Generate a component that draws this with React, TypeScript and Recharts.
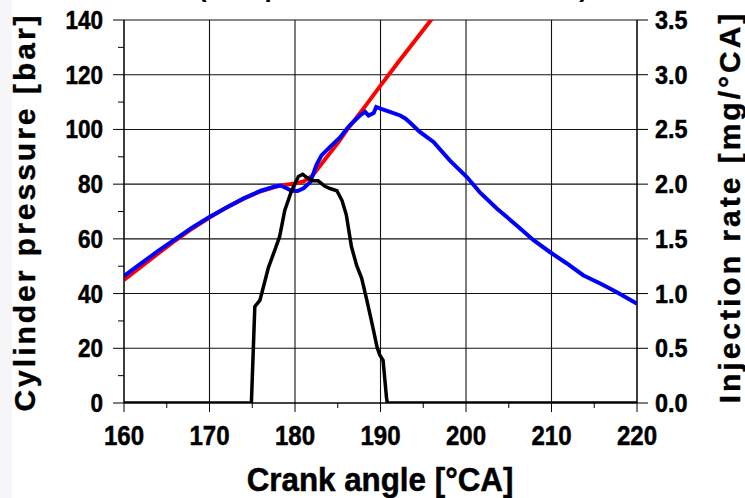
import React from 'react';
import { ComposedChart, Line, XAxis, YAxis, CartesianGrid } from 'recharts';

// Measured cylinder pressure [bar] vs crank angle [°CA]
const measuredAngle = [
  160, 162, 164, 166, 168, 170, 172, 174, 176, 177.5, 178.3, 179, 179.6, 180.3, 181,
  181.8, 182.5, 183.1, 184.1, 185.3, 186.4, 187.6, 188.2, 188.6, 189.2, 189.5, 190,
  191.1, 192.3, 192.9, 193.6, 194.6, 196.2, 198.1, 200.1, 201.6, 203.6, 205.9, 207.9,
  209.8, 211.8, 213.7, 215.7, 217.6, 219.6, 220,
];
const measuredPressure = [
  46.4, 51, 55.6, 59.9, 64.2, 68, 71.5, 74.8, 77.6, 79, 79.5, 78.5, 77.6, 77.5, 78.5,
  80.8, 87, 90.5, 93.6, 97.2, 101.5, 105.1, 106.4, 105.1, 106, 108.2, 107.6,
  106.4, 105.1, 104, 102.1, 99.1, 95.4, 88.7, 82.6, 77.1, 71.1, 65, 59.5,
  55.2, 51, 46.7, 43.7, 40.6, 37, 36.3,
];

// Simulated cylinder pressure [bar]
const simAngle = [
  160, 162, 164, 166, 168, 170, 172, 174, 176, 178, 179, 180, 181, 182, 183, 184, 185,
  186, 187, 188, 190, 192, 194, 196, 197,
];
const simPressure = [
  45, 49.8, 54.7, 59.4, 63.8, 67.8, 71.5, 74.7, 77.4, 79.3, 79.8, 80.2, 81, 83, 87, 91, 95,
  99.5, 103.5, 107.6, 116, 124.3, 132.3, 140.4, 144.5,
];

// Injection rate [mg/°CA]
const injAngle = [
  160, 174.9, 175.3, 175.9, 176.9, 177.7, 178.2, 178.8, 179.6, 180.4, 180.9, 181.4, 182,
  182.7, 183.5, 184.1, 184.9, 185.5, 186, 186.6, 187.2, 187.8, 188.4, 189, 189.6, 189.9,
  190.3, 190.7, 190.8, 220,
];
const injRate = [
  0, 0, 0.88, 0.94, 1.24, 1.41, 1.52, 1.76, 1.94, 2.07, 2.09, 2.06, 2.03,
  2.03, 1.98, 1.96, 1.94, 1.85, 1.72, 1.43, 1.26, 1.14, 0.94, 0.73, 0.51, 0.44,
  0.39, 0.05, 0, 0,
];

const angleTicks = [160, 165, 170, 175, 180, 185, 190, 195, 200, 205, 210, 215, 220];
const angleGrid = [160, 170, 180, 190, 200, 210, 220];
const pressureTicks = [0, 10, 20, 30, 40, 50, 60, 70, 80, 90, 100, 110, 120, 130, 140];
const pressureGrid = [0, 20, 40, 60, 80, 100, 120, 140];
const rateTicks = [0, 0.5, 1, 1.5, 2, 2.5, 3, 3.5];

const measured = measuredAngle.map((a, i) => ({ angle: a, p: measuredPressure[i] }));
const simulated = simAngle.map((a, i) => ({ angle: a, p: simPressure[i] }));
const injection = injAngle.map((a, i) => ({ angle: a, r: injRate[i] }));

const W = 745;
const H = 498;
const font = "'Liberation Sans', Arial, Helvetica, sans-serif";

// heavy bold text squeezed horizontally, like a narrow face
const Narrow = ({ x, y, anchor, size, sx, children }: any) => (
  <text
    transform={`translate(${x} ${y}) scale(${sx} 1)`}
    textAnchor={anchor}
    fontFamily={font}
    fontWeight="bold"
    fontSize={size}
    fill="#000"
    stroke="#000"
    strokeWidth={0.5}
  >
    {children}
  </text>
);

const AngleTick = ({ x, y, payload }: any) => {
  const major = payload.value % 10 === 0;
  return (
    <g>
      <line x1={x} x2={x} y1={y} y2={y + (major ? 9 : 5)} stroke="#000" />
      {major && (
        <Narrow x={x} y={y + 42} anchor="middle" size={28} sx={0.86}>
          {payload.value}
        </Narrow>
      )}
    </g>
  );
};

const PressureTick = ({ x, y, payload }: any) => {
  const major = payload.value % 20 === 0;
  return (
    <g>
      <line x1={x} x2={x - (major ? 11 : 6)} y1={y} y2={y} stroke="#000" />
      {major && (
        <Narrow x={x - 21} y={y + 9} anchor="end" size={25} sx={0.9}>
          {payload.value}
        </Narrow>
      )}
    </g>
  );
};

const RateTick = ({ x, y, payload }: any) => (
  <g>
    <line x1={x} x2={x + 11} y1={y} y2={y} stroke="#000" />
    <Narrow x={x + 18} y={y + 9} anchor="start" size={26} sx={0.9}>
      {payload.value.toFixed(1)}
    </Narrow>
  </g>
);

export default function App() {
  return (
    <div style={{ position: 'absolute', left: 0, top: 0, width: W, height: H, background: '#fff' }}>
      <div style={{ position: 'absolute', left: 0, top: 0, width: 12, height: H, background: '#f6f6f8' }} />
      <ComposedChart width={W} height={H} margin={{ top: 20, right: 0, bottom: 0, left: 0 }}>
        <CartesianGrid
          horizontalValues={pressureGrid}
          verticalValues={angleGrid}
          stroke="#111"
          strokeWidth={1.1}
          yAxisId="p"
        />
        <XAxis
          dataKey="angle"
          type="number"
          domain={[160, 220]}
          ticks={angleTicks}
          interval={0}
          height={95}
          tickSize={0}
          tickMargin={0}
          tickLine={false}
          stroke="#000"
          allowDataOverflow
          tick={(p: any) => <AngleTick {...p} />}
        />
        <YAxis
          yAxisId="p"
          domain={[0, 140]}
          ticks={pressureTicks}
          interval={0}
          width={124}
          tickSize={0}
          tickMargin={0}
          tickLine={false}
          stroke="#000"
          allowDataOverflow
          tick={(p: any) => <PressureTick {...p} />}
        />
        <YAxis
          yAxisId="r"
          orientation="right"
          domain={[0, 3.5]}
          ticks={rateTicks}
          interval={0}
          width={108}
          tickSize={0}
          tickMargin={0}
          tickLine={false}
          stroke="#000"
          allowDataOverflow
          tick={(p: any) => <RateTick {...p} />}
        />
        <Line
          data={simulated}
          yAxisId="p"
          dataKey="p"
          stroke="#ff0000"
          strokeWidth={4}
          dot={false}
          isAnimationActive={false}
        />
        <Line
          data={measured}
          yAxisId="p"
          dataKey="p"
          stroke="#0000ff"
          strokeWidth={4}
          dot={false}
          isAnimationActive={false}
        />
        <Line
          data={injection}
          yAxisId="r"
          dataKey="r"
          stroke="#000"
          strokeWidth={3.5}
          dot={false}
          isAnimationActive={false}
        />
      </ComposedChart>
      <svg width={W} height={H} style={{ position: 'absolute', left: 0, top: 0, pointerEvents: 'none' }}>
        <text x={393} y={-3} textAnchor="middle" fontFamily={font} fontWeight="bold" fontSize={26} fill="#000">
          (Computed and measured data)
        </text>
        <text
          transform="translate(35 212) rotate(-90)"
          textAnchor="middle"
          fontFamily={font}
          fontWeight="bold"
          fontSize={30}
          letterSpacing={3}
          fill="#000"
          stroke="#000"
          strokeWidth={0.4}
        >
          Cylinder pressure [bar]
        </text>
        <text
          transform="translate(740 207) rotate(-90)"
          textAnchor="middle"
          fontFamily={font}
          fontWeight="bold"
          fontSize={30}
          letterSpacing={3}
          fill="#000"
          stroke="#000"
          strokeWidth={0.4}
        >
          Injection rate [mg/°CA]
        </text>
        <Narrow x={380} y={491} anchor="middle" size={33} sx={0.95}>
          Crank angle [°CA]
        </Narrow>
      </svg>
    </div>
  );
}
